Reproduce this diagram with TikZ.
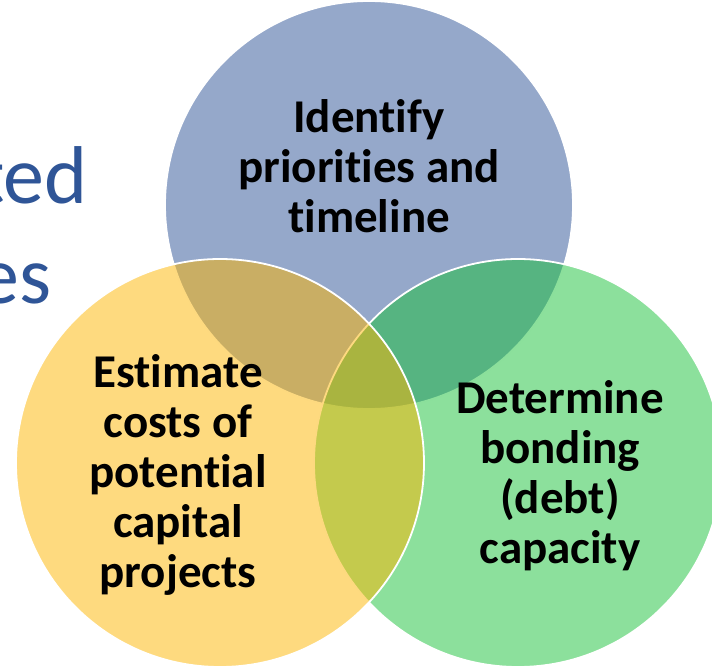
\documentclass[tikz,border=0pt]{standalone}
\usepackage{fontspec}
\setmainfont{Carlito}[Ligatures=NoCommon]
\usetikzlibrary{positioning}

\definecolor{prioblue}{HTML}{95A8CA}
\definecolor{costyellow}{HTML}{FDB500}
\definecolor{debtgreen}{HTML}{19C139}
\definecolor{titleblue}{HTML}{2F5597}

\begin{document}
\begin{tikzpicture}[
  x=1pt, y=-1pt,
  venn/.style={circle, draw=white, line width=1.8pt, minimum size=408pt, inner sep=0pt},
  vtext/.style={align=center, inner sep=0pt, font=\fontsize{47}{50}\selectfont\bfseries},
  titletext/.style={inner sep=0pt, text=titleblue, font=\fontsize{82}{98}\selectfont}
]
\useasboundingbox (0,0) rectangle (712,669);

% title words behind the circles
\node[titletext, anchor=base east] (ttlA) at (88,203) {ted};
\node[titletext, anchor=base east] (ttlB) at (52,303) {es};

% the three circles
\node[venn, fill=prioblue] (prio) at (369,205) {};
\node[venn, fill=debtgreen, fill opacity=0.5] (debt) at (518,463) {};
\node[venn, fill=costyellow, fill opacity=0.5] (cost) at (220,463) {};

% base = last line
\node[vtext, anchor=base] (priotxt) at (369,232) {Identify\\priorities and\\timeline};
\node[vtext, anchor=base] (costtxt) at (178,587) {Estimate\\costs of\\potential\\capital\\projects};
\node[vtext, anchor=base] (debttxt) at (560,563) {Determine\\bonding\\(debt)\\capacity};

\end{tikzpicture}
\end{document}
